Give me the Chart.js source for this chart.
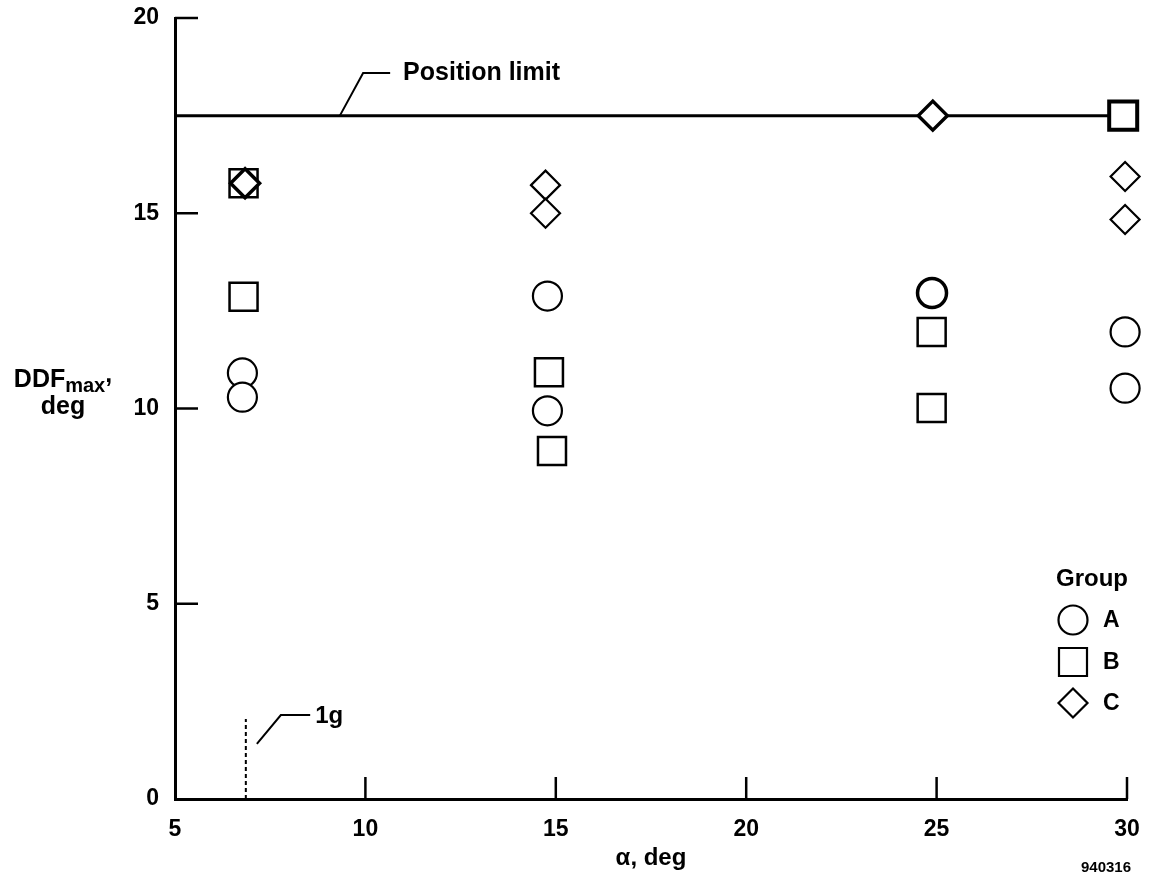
<!DOCTYPE html>
<html><head><meta charset="utf-8">
<script src="https://cdn.jsdelivr.net/npm/chart.js@4/dist/chart.umd.min.js"></script>
<style>html,body{margin:0;padding:0;background:#fff}#wrap{width:1160px;height:886px;position:relative}</style>
</head><body><div id="wrap"><canvas id="c" width="1160" height="886"></canvas></div>
<script>
// ---- data ----
const xTicks = [5, 10, 15, 20, 25, 30];
const yTicks = [0, 5, 10, 15, 20];
const groupA_x = [6.77, 6.77, 14.78, 14.78, 24.88, 29.95, 29.95];
const groupA_y = [10.91, 10.29, 12.88, 9.94, 12.96, 11.96, 10.52];
const groupB_x = [6.8, 6.8, 14.82, 14.9, 24.87, 24.87, 29.9];
const groupB_y = [15.77, 12.86, 10.93, 8.91, 11.96, 10.01, 17.5];
const groupC_x = [6.84, 14.73, 14.73, 24.9, 29.95, 29.95];
const groupC_y = [15.77, 15.72, 15.0, 17.5, 15.94, 14.84];
const positionLimit = 17.5;
const oneG_alpha = 6.86;
const oneG_top = 2.05;
const groupNames = ['A', 'B', 'C'];

const FONT = "'Liberation Sans', Arial, Helvetica, sans-serif";
const pts = (xs, ys) => xs.map((v, i) => ({x: v, y: ys[i]}));
const PLOT_TOP = 18;

const inkPlugin = {
  id: 'ink',
  afterLayout(chart) {
    const y = chart.scales.y;
    y.top = PLOT_TOP; y.height = y.bottom - PLOT_TOP; y.configure();
    chart.chartArea.top = PLOT_TOP; chart.chartArea.height = chart.chartArea.bottom - PLOT_TOP;
  },
  beforeDraw(chart) {
    const ctx = chart.ctx;
    ctx.save(); ctx.fillStyle = '#fff'; ctx.fillRect(0, 0, chart.width, chart.height); ctx.restore();
  },
  afterDraw(chart) {
    const {ctx, scales: {x, y}} = chart;
    ctx.save();
    ctx.strokeStyle = '#000'; ctx.fillStyle = '#000';
    ctx.lineWidth = 2.5; ctx.lineCap = 'butt';
    // inward ticks
    xTicks.forEach(v => {
      if (v === x.min) return;
      const px = x.getPixelForValue(v);
      ctx.beginPath(); ctx.moveTo(px, y.bottom); ctx.lineTo(px, y.bottom - 22); ctx.stroke();
    });
    yTicks.forEach(v => {
      if (v === y.min) return;
      const py = y.getPixelForValue(v);
      ctx.beginPath(); ctx.moveTo(x.left, py); ctx.lineTo(x.left + 23, py); ctx.stroke();
    });
    // Position limit leader
    ctx.lineWidth = 2;
    const P = (a, b) => [x.getPixelForValue(a), y.getPixelForValue(b)];
    let a = P(9.33, positionLimit), b = P(9.94, 18.59), c = P(10.65, 18.59);
    ctx.beginPath(); ctx.moveTo(a[0], a[1]); ctx.lineTo(b[0], b[1]); ctx.lineTo(c[0], c[1]); ctx.stroke();
    ctx.font = 'bold 25px ' + FONT; ctx.textBaseline = 'middle'; ctx.textAlign = 'left';
    const t = P(10.99, 18.59);
    ctx.fillText('Position limit', t[0], t[1]);
    // 1g leader
    a = P(7.15, 1.41); b = P(7.78, 2.15); c = P(8.55, 2.15);
    ctx.beginPath(); ctx.moveTo(a[0], a[1]); ctx.lineTo(b[0], b[1]); ctx.lineTo(c[0], c[1]); ctx.stroke();
    ctx.font = 'bold 24px ' + FONT;
    const g = P(8.68, 2.15);
    ctx.fillText('1g', g[0], g[1] + 1);
    // y title
    ctx.textBaseline = 'alphabetic';
    ctx.font = 'bold 25px ' + FONT;
    const w1 = ctx.measureText('DDF').width;
    ctx.font = 'bold 20px ' + FONT;
    const w2 = ctx.measureText('max').width;
    ctx.font = 'bold 25px ' + FONT;
    const w3 = ctx.measureText(',').width;
    const cx = 63, total = w1 + w2 + w3;
    let xx = cx - total / 2;
    ctx.fillText('DDF', xx, 387); xx += w1;
    ctx.font = 'bold 20px ' + FONT;
    ctx.fillText('max', xx, 392); xx += w2;
    ctx.font = 'bold 25px ' + FONT;
    ctx.fillText(',', xx, 382);
    ctx.textAlign = 'center';
    ctx.fillText('deg', cx, 414);
    // legend
    ctx.font = 'bold 24px ' + FONT;
    ctx.fillText('Group', 1092, 586);
    ctx.lineWidth = 2.2;
    const mx = 1073, ys = [620, 662, 703];
    ctx.beginPath(); ctx.arc(mx, ys[0], 14.5, 0, Math.PI * 2); ctx.stroke();
    ctx.beginPath(); ctx.rect(mx - 14, ys[1] - 14, 28, 28); ctx.stroke();
    ctx.beginPath(); ctx.moveTo(mx - 14.5, ys[2]); ctx.lineTo(mx, ys[2] - 14.5); ctx.lineTo(mx + 14.5, ys[2]); ctx.lineTo(mx, ys[2] + 14.5); ctx.closePath(); ctx.stroke();
    ctx.font = 'bold 23px ' + FONT; ctx.textAlign = 'left'; ctx.textBaseline = 'middle';
    groupNames.forEach((n, i) => ctx.fillText(n, 1103, ys[i] + 1));
    // figure number
    ctx.font = 'bold 15px ' + FONT; ctx.textAlign = 'center';
    ctx.fillText('940316', 1106, 868);
    ctx.restore();
  }
};

new Chart(document.getElementById('c'), {
  type: 'scatter',
  data: {
    datasets: [
      {label: 'C', data: pts(groupC_x, groupC_y), pointStyle: 'rectRot', pointRadius: 14.5,
       pointBorderWidth: [3.5, 2.2, 2.2, 3.5, 2.2, 2.2], borderColor: '#000', backgroundColor: '#fff', order: 0, clip: false},
      {label: 'B', data: pts(groupB_x, groupB_y), pointStyle: 'rect', pointRadius: 19.8,
       pointBorderWidth: [2.5, 2.5, 2.5, 2.5, 2.5, 2.5, 4], borderColor: '#000', backgroundColor: '#fff', order: 1, clip: false},
      {label: 'A', data: pts(groupA_x, groupA_y), pointStyle: 'circle', pointRadius: 14.5,
       pointBorderWidth: [2.2, 2.2, 2.2, 2.2, 3.5, 2.2, 2.2], borderColor: '#000', backgroundColor: '#fff', order: 2, clip: false},
      {label: 'Position limit', type: 'line', data: [{x: xTicks[0], y: positionLimit}, {x: xTicks[xTicks.length - 1], y: positionLimit}],
       borderColor: '#000', borderWidth: 3, pointRadius: 0, order: 3, clip: false},
      {label: '1g', type: 'line', data: [{x: oneG_alpha, y: 0}, {x: oneG_alpha, y: oneG_top}],
       borderColor: '#000', borderWidth: 2, borderDash: [4, 3], pointRadius: 0, order: 4}
    ]
  },
  options: {
    responsive: false, animation: false, devicePixelRatio: 1,
    layout: {padding: {left: 0, right: 33, top: 18, bottom: 0}},
    plugins: {legend: {display: false}, tooltip: {enabled: false}},
    scales: {
      x: {
        type: 'linear', min: 5, max: 30,
        afterBuildTicks: s => { s.ticks = xTicks.map(v => ({value: v})); },
        afterFit: s => { s.height = 87; s.paddingLeft = 0; s.paddingRight = 0; },
        grid: {display: false, drawTicks: false},
        border: {display: true, color: '#000', width: 3},
        ticks: {color: '#000', padding: 17, font: {family: FONT, size: 23, weight: 'bold'}, maxRotation: 0},
        title: {display: true, text: 'α, deg', color: '#000', font: {family: FONT, size: 24, weight: 'bold'}, padding: {top: 0, bottom: 13}}
      },
      y: {
        type: 'linear', min: 0, max: 20,
        afterBuildTicks: s => { s.ticks = yTicks.map(v => ({value: v})); },
        afterFit: s => { s.width = 175; s.paddingTop = 0; s.paddingBottom = 0; },
        grid: {display: false, drawTicks: false},
        border: {display: true, color: '#000', width: 3},
        ticks: {color: '#000', padding: 16, font: {family: FONT, size: 23, weight: 'bold'}}
      }
    }
  },
  plugins: [inkPlugin]
});
</script>
</body></html>
